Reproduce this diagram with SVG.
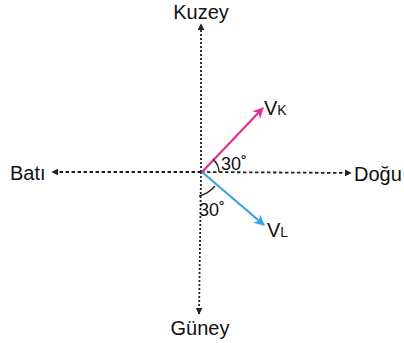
<svg xmlns="http://www.w3.org/2000/svg" width="404" height="343" viewBox="0 0 404 343">
<style>
text{font-family:"Liberation Sans",Arial,sans-serif;fill:#111}
.lbl{font-size:20px}
.ang{font-size:18px}
.ax{stroke:#222;stroke-width:1.8;fill:none}
.v{stroke-dasharray:2 2}
.h{stroke-dasharray:3.5 2.5}
</style>
<defs>
<marker id="ah" viewBox="0 0 10 10" refX="9" refY="5" markerWidth="7" markerHeight="7" markerUnits="userSpaceOnUse" orient="auto"><path d="M0,0L10,5L0,10z" fill="#222"/></marker>
<marker id="ak" viewBox="0 0 10 10" refX="9" refY="5" markerWidth="11" markerHeight="11" markerUnits="userSpaceOnUse" orient="auto"><path d="M0,0L10,5L0,10L3,5z" fill="#e0338f"/></marker>
<marker id="al" viewBox="0 0 10 10" refX="9" refY="5" markerWidth="11" markerHeight="11" markerUnits="userSpaceOnUse" orient="auto"><path d="M0,0L10,5L0,10L3,5z" fill="#3ba2e0"/></marker>
</defs>
<rect width="404" height="343" fill="#fff"/>
<g id="connectors">
<line class="ax v" x1="201" y1="172" x2="201" y2="24" marker-end="url(#ah)"/>
<line class="ax v" x1="201" y1="172" x2="199" y2="314" marker-end="url(#ah)"/>
<line class="ax h" x1="201" y1="172" x2="52" y2="172" marker-end="url(#ah)"/>
<line class="ax h" x1="201" y1="172" x2="351" y2="173" marker-end="url(#ah)"/>
<line id="vk-arrow" x1="202" y1="172" x2="263" y2="108" stroke="#e0338f" stroke-width="2.2" marker-end="url(#ak)"/>
<line id="vl-arrow" x1="202" y1="172" x2="264" y2="225" stroke="#3ba2e0" stroke-width="2.2" marker-end="url(#al)"/>
<path d="M213,159 Q219,165 219,172" fill="none" stroke="#222" stroke-width="1.4"/>
<path d="M199,196 Q208,194 215,186" fill="none" stroke="#222" stroke-width="1.4"/>
</g>
<g id="kuzey"><text class="lbl" x="201" y="19" text-anchor="middle">Kuzey</text></g>
<g id="guney"><text class="lbl" x="200" y="335" text-anchor="middle">Güney</text></g>
<g id="bati"><text class="lbl" x="10" y="180">Batı</text></g>
<g id="dogu"><text class="lbl" x="354" y="181">Doğu</text></g>
<g id="vk"><text class="lbl" x="264" y="115">V<tspan font-size="14">K</tspan></text></g>
<g id="vl"><text class="lbl" x="267" y="237">V<tspan font-size="14">L</tspan></text></g>
<g id="angle-k"><text class="ang" x="221" y="170">30˚</text></g>
<g id="angle-l"><text class="ang" x="199" y="216">30˚</text></g>
</svg>
